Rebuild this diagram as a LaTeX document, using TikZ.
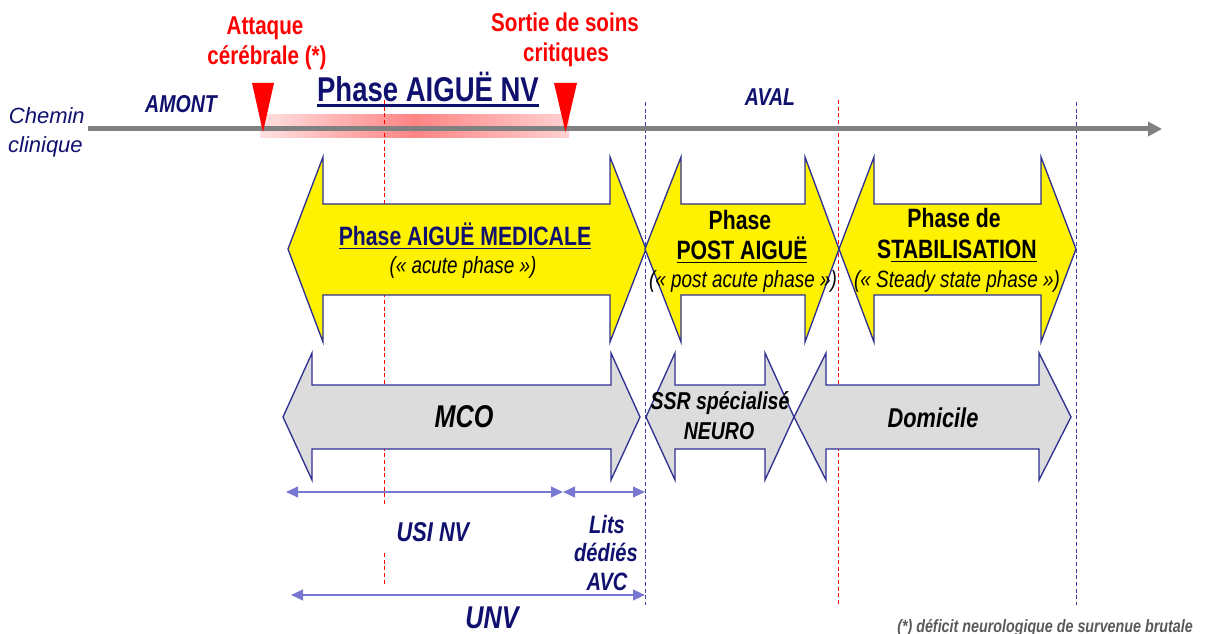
\documentclass[tikz,border=0pt]{standalone}
\usepackage{fontspec}
\setmainfont{Liberation Sans}[FakeStretch=0.8]
\newfontfamily\plainsans{Liberation Sans}
\usetikzlibrary{arrows.meta}
\definecolor{txtnavy}{RGB}{16,16,110}
\definecolor{arrline}{RGB}{46,49,146}
\definecolor{spanblue}{RGB}{120,120,210}
\definecolor{vblue}{RGB}{60,60,170}
\definecolor{tlgray}{RGB}{128,128,128}
\definecolor{gfill}{RGB}{220,220,220}
\newcommand\ulx[3]{\setbox0=\hbox{#3}\rlap{\rule[-#1]{\wd0}{#2}}\box0}
\begin{document}
\begin{tikzpicture}[x=0.75pt,y=-0.75pt,
  lbl/.style={inner sep=0pt,anchor=base},
  vline/.style={dash pattern=on 3pt off 2pt,line width=0.75pt},
  yarrow/.style={fill=yellow,draw=arrline,line width=1pt,line join=miter},
  garrow/.style={fill=gfill,draw=arrline,line width=1pt,line join=miter},
  spanarr/.style={draw=spanblue,line width=1.5pt,{Triangle[length=9pt,width=8pt]}-{Triangle[length=9pt,width=8pt]}},
  redlbl/.style={lbl,text=red,font=\bfseries\fontsize{19.3}{23}\selectfont},
  navyb/.style={lbl,text=txtnavy,font=\bfseries\itshape\fontsize{18.3}{22}\selectfont}]
\useasboundingbox (0,0) rectangle (1206,634);
% pink band
\shade[left color=red!12,right color=red!18,middle color=red!48] (260,115) rectangle (569,138);
% vertical dashed lines
\draw[vline,red] (384,100) -- (384,506);
\draw[vline,red] (384,553) -- (384,585);
\draw[vline,vblue] (645,102) -- (645,605);
\draw[vline,red] (838,100) -- (838,605);
\draw[vline,vblue] (1076,102) -- (1076,605);
% timeline
\coordinate (tlS) at (88,129);
\coordinate (tlE) at (1162,129);
\draw[tlgray,line width=3.75pt,-{Triangle[length=10.5pt,width=10.5pt]}] (tlS) -- (tlE);
% yellow phase arrows
\filldraw[yarrow] (288,249) -- (323,157) -- (323,204) -- (610,204) -- (610,157) -- (646,249) -- (610,342) -- (610,295) -- (323,295) -- (323,342) -- cycle;
\filldraw[yarrow] (645,249) -- (681,157) -- (681,204) -- (805,204) -- (805,157) -- (839,249) -- (805,342) -- (805,295) -- (681,295) -- (681,342) -- cycle;
\filldraw[yarrow] (839,249) -- (874,157) -- (874,204) -- (1041,204) -- (1041,157) -- (1076,249) -- (1041,342) -- (1041,295) -- (874,295) -- (874,342) -- cycle;
% grey place arrows
\filldraw[garrow] (283,417) -- (312,353) -- (312,385) -- (611,385) -- (611,353) -- (640,417) -- (611,480) -- (611,449) -- (312,449) -- (312,480) -- cycle;
\filldraw[garrow] (646,417) -- (675,353) -- (675,385) -- (765,385) -- (765,353) -- (794,417) -- (765,480) -- (765,449) -- (675,449) -- (675,480) -- cycle;
\filldraw[garrow] (794,417) -- (826,353) -- (826,385) -- (1039,385) -- (1039,353) -- (1071,417) -- (1039,480) -- (1039,449) -- (826,449) -- (826,480) -- cycle;
% red triangles
\fill[red] (252,83) -- (274,83) -- (263,132) -- cycle;
\fill[red] (554,83) -- (577,83) -- (565.5,132) -- cycle;
% top labels
\node[redlbl] (att1) at (265,35) {Attaque};
\node[redlbl] (att2) at (267,65) {cérébrale (*)};
\node[redlbl] (sor1) at (565,32) {Sortie de soins};
\node[redlbl] (sor2) at (566,62) {critiques};
\node[lbl,text=txtnavy,font=\bfseries\fontsize{25.8}{30}\selectfont] (nv) at (428,102) {\ulx{3.6pt}{1.8pt}{Phase AIGUË NV}};
\node[lbl,anchor=base east,text=txtnavy,font=\plainsans\itshape\fontsize{16.5}{20}\selectfont] (ch1) at (85,124) {Chemin};
\node[lbl,anchor=base east,text=txtnavy,font=\plainsans\itshape\fontsize{16.5}{20}\selectfont] (ch2) at (83,153) {clinique};
\node[navyb] (amont) at (181,113) {AMONT};
\node[navyb] (aval) at (770,106) {AVAL};
% yellow arrow texts
\node[lbl,text=txtnavy,font=\bfseries\fontsize{19.9}{24}\selectfont] (aig1) at (465,246) {\ulx{2.6pt}{1.4pt}{Phase AIGUË MEDICALE}};
\node[lbl,font=\itshape\fontsize{17.7}{21}\selectfont] (aig2) at (463,274) {(« acute phase »)};
\node[lbl,font=\bfseries\fontsize{19.9}{24}\selectfont] (post1) at (740,230) {Phase};
\node[lbl,font=\bfseries\fontsize{19.9}{24}\selectfont] (post2) at (742,260) {\ulx{2.6pt}{1.4pt}{POST AIGUË}};
\node[lbl,font=\itshape\fontsize{17.7}{21}\selectfont] (post3) at (743,288) {(« post acute phase »)};
\node[lbl,font=\bfseries\fontsize{19.9}{24}\selectfont] (stab1) at (954,228) {Phase de};
\node[lbl,font=\bfseries\fontsize{19.9}{24}\selectfont] (stab2) at (957,259) {S\ulx{2.6pt}{1.4pt}{TABILISATION}};
\node[lbl,font=\itshape\fontsize{17.7}{21}\selectfont] (stab3) at (957,288) {(« Steady state phase »)};
% grey arrow texts
\node[lbl,font=\bfseries\itshape\fontsize{23.6}{28}\selectfont] (mco) at (464,427) {MCO};
\node[lbl,font=\bfseries\itshape\fontsize{18.3}{22}\selectfont] (ssr1) at (720,409) {SSR spécialisé};
\node[lbl,font=\bfseries\itshape\fontsize{18.3}{22}\selectfont] (ssr2) at (719,439) {NEURO};
\node[lbl,font=\bfseries\itshape\fontsize{20.4}{24}\selectfont] (dom) at (933,427) {Domicile};
% spans
\coordinate (usiL) at (286,492);
\coordinate (usiR) at (563,492);
\coordinate (litsR) at (645,492);
\coordinate (unvL) at (291,595);
\coordinate (unvR) at (645,595);
\draw[spanarr] (usiL) -- (usiR);
\draw[spanarr] (usiR) -- (litsR);
\draw[spanarr] (unvL) -- (unvR);
\node[lbl,text=txtnavy,font=\bfseries\itshape\fontsize{20.4}{24}\selectfont] (usi) at (433,541) {USI NV};
\node[lbl,text=txtnavy,font=\bfseries\itshape\fontsize{18.8}{22}\selectfont] (lit1) at (607,533) {Lits};
\node[lbl,text=txtnavy,font=\bfseries\itshape\fontsize{18.8}{22}\selectfont] (lit2) at (606,561) {dédiés};
\node[lbl,text=txtnavy,font=\bfseries\itshape\fontsize{18.8}{22}\selectfont] (lit3) at (607,590) {AVC};
\node[lbl,text=txtnavy,font=\bfseries\itshape\fontsize{23.6}{28}\selectfont] (unv) at (492,628) {UNV};
\node[lbl,anchor=base west,text=black!65,font=\bfseries\itshape\fontsize{13.4}{16}\selectfont] (foot) at (897,632) {(*) déficit neurologique de survenue brutale};
\end{tikzpicture}
\end{document}
